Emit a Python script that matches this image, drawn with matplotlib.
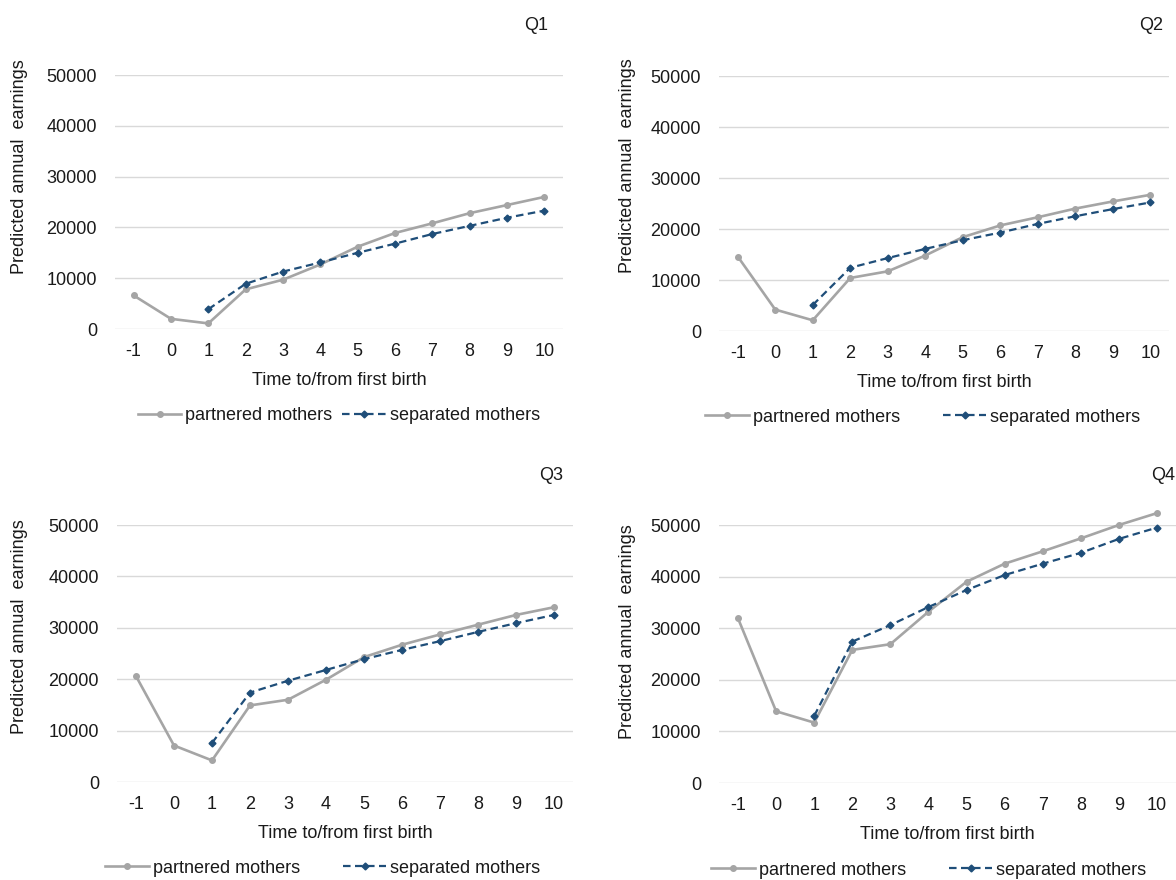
import numpy as np
import matplotlib
matplotlib.use("Agg")
import matplotlib.pyplot as plt

plt.rcParams['font.family'] = ['Liberation Sans', 'DejaVu Sans']

# data (earnings by time to/from first birth)
years = [-1, 0, 1, 2, 3, 4, 5, 6, 7, 8, 9, 10]
nan = np.nan
q1_partnered = [6600, 2000, 1100, 7800, 9700, 12700, 16200, 18900, 20800, 22800, 24400, 26000]
q1_separated = [nan, nan, 3900, 8900, 11300, 13100, 15000, 16800, 18700, 20300, 21900, 23300]
q2_partnered = [14600, 4200, 2100, 10400, 11700, 14800, 18400, 20700, 22300, 24000, 25400, 26700]
q2_separated = [nan, nan, 5100, 12400, 14300, 16100, 17800, 19300, 21000, 22500, 23900, 25200]
q3_partnered = [20600, 7100, 4200, 14900, 16000, 19900, 24300, 26700, 28700, 30600, 32500, 34000]
q3_separated = [nan, nan, 7600, 17400, 19700, 21800, 23900, 25700, 27400, 29200, 30900, 32500]
q4_partnered = [31900, 13900, 11700, 25800, 26900, 33200, 39000, 42500, 44900, 47400, 50000, 52300]
q4_separated = [nan, nan, 13000, 27400, 30600, 34100, 37400, 40300, 42500, 44600, 47300, 49500]

panel_names = ["Q1", "Q2", "Q3", "Q4"]
series_labels = ["partnered mothers", "separated mothers"]
y_ticks = [0, 10000, 20000, 30000, 40000, 50000]

W, H = 1176, 880
GRAY = "#A5A5A5"
BLUE = "#1F4E79"
TXT = "#1a1a1a"
FS = 13


def fx(x):
    return x / W


def fy(y):
    return 1 - y / H


# panel layout in pixels: left, right, y of 0 line, y of 50000 line,
# title pos, ylabel pos, legend centre, legend column spacing
layout = [
    dict(l=115, r=563, b=329, t=75, title=(536, 25), ylab=(20, 167), leg=(339, 416), cs=0.55),
    dict(l=719, r=1169, b=331, t=76, title=(1151, 25), ylab=(627, 166), leg=(923, 417), cs=2.4),
    dict(l=117, r=573, b=782, t=525, title=(551, 475), ylab=(20, 627), leg=(323, 868), cs=2.4),
    dict(l=719, r=1176, b=783, t=525, title=(1163, 475), ylab=(627, 632), leg=(929, 870), cs=2.4),
]

partnered = [q1_partnered, q2_partnered, q3_partnered, q4_partnered]
separated = [q1_separated, q2_separated, q3_separated, q4_separated]

fig = plt.figure(figsize=(W / 100, H / 100), dpi=100)

for i, lay in enumerate(layout):
    ax = fig.add_axes([fx(lay['l']), fy(lay['b']), fx(lay['r'] - lay['l']),
                       (lay['b'] - lay['t']) / H])
    ax.plot(years, partnered[i], color=GRAY, lw=1.9, marker='o', ms=4,
            label=series_labels[0], clip_on=False, zorder=3)
    ax.plot(years, separated[i], color=BLUE, lw=1.6, ls=(0, (3.4, 2)), marker='D', ms=3.5,
            label=series_labels[1], clip_on=False, zorder=4)

    ax.set_xlim(-1.5, 10.5)
    ax.set_ylim(0, 50000)
    ax.set_xticks(years)
    ax.set_xticklabels([str(y) for y in years])
    ax.set_yticks(y_ticks)
    ax.set_yticklabels([str(v) for v in y_ticks])
    ax.tick_params(axis='both', length=0, labelsize=FS, colors=TXT)
    ax.tick_params(axis='y', pad=13)
    ax.tick_params(axis='x', pad=10)
    ax.grid(axis='y', color="#D9D9D9", lw=1)
    ax.set_axisbelow(True)
    for s in ax.spines.values():
        s.set_visible(False)

    # x label centred under plot
    xc = (lay['l'] + lay['r']) / 2
    fig.text(fx(xc), fy(lay['b'] + 51), "Time to/from first birth", ha='center', va='center',
             fontsize=FS, color=TXT)
    fig.text(fx(lay['ylab'][0]), fy(lay['ylab'][1]), "Predicted annual  earnings", rotation=90,
             ha='center', va='center', fontsize=FS, color=TXT)
    fig.text(fx(lay['title'][0]), fy(lay['title'][1]), panel_names[i], ha='center', va='center',
             fontsize=FS, color=TXT)

    ax.legend(loc='center', bbox_to_anchor=(fx(lay['leg'][0]), fy(lay['leg'][1])),
              bbox_transform=fig.transFigure, ncol=2, frameon=False, fontsize=FS,
              handlelength=2.4, handletextpad=0.22, columnspacing=lay['cs'],
              labelcolor=TXT)

fig.savefig("out.png", dpi=100)
